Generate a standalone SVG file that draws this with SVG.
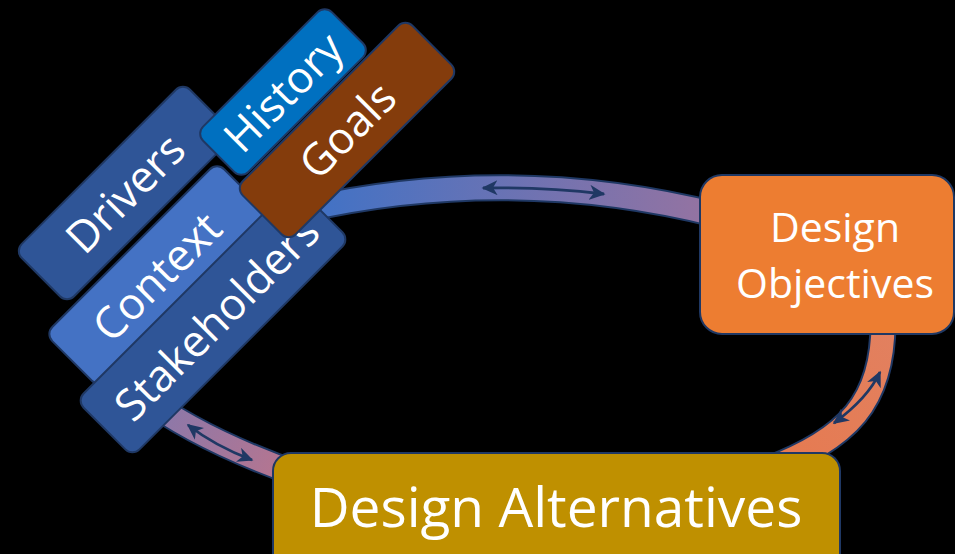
<svg xmlns="http://www.w3.org/2000/svg" width="955" height="554" viewBox="0 0 955 554">
  <style>
    .box { stroke: #1F3864; stroke-width: 2; }
    .lbl { font-family: "Open Sans", "Noto Sans", sans-serif; fill: #FFFFFF; text-anchor: middle; }
    .tag { font-size: 44px; }
    .rim { fill: none; stroke: #1F3864; stroke-width: 27; }
    .band { fill: none; stroke-width: 23; }
    .dbl { fill: none; stroke: #1F3864; stroke-width: 2.8; marker-start: url(#tip); marker-end: url(#tip); }
  </style>
  <defs>
    <marker id="tip" markerUnits="userSpaceOnUse" markerWidth="17" markerHeight="16" refX="14.5" refY="7.5" orient="auto-start-reverse">
      <path d="M0,0 L16,7.5 L0,15 L4.5,7.5 z" fill="#1F3864"/>
    </marker>
    <linearGradient id="gTop" gradientUnits="userSpaceOnUse" x1="330" y1="0" x2="700" y2="0">
      <stop offset="0" stop-color="#4472C4"/>
      <stop offset="1" stop-color="#9373A2"/>
    </linearGradient>
    <linearGradient id="gLeft" gradientUnits="userSpaceOnUse" x1="160" y1="410" x2="290" y2="475">
      <stop offset="0" stop-color="#8B78AA"/>
      <stop offset="1" stop-color="#B8758E"/>
    </linearGradient>
    <linearGradient id="gRight" gradientUnits="userSpaceOnUse" x1="885" y1="330" x2="770" y2="465">
      <stop offset="0" stop-color="#E2805F"/>
      <stop offset="1" stop-color="#E67A50"/>
    </linearGradient>
  </defs>

  <rect width="955" height="554" fill="#000000"/>

  <!-- cycle bands and their two-way arrows -->
  <g id="connectors">
    <path class="rim" d="M300,210.7 Q510,162.6 720,215.5"/>
    <path class="band" stroke="url(#gTop)" d="M300,210.7 Q510,162.6 720,215.5"/>
    <path class="rim" d="M883,320 C884,400 850,440 760,472"/>
    <path class="band" stroke="url(#gRight)" d="M883,320 C884,400 850,440 760,472"/>
    <path class="rim" d="M140,395 Q200,440 300,475"/>
    <path class="band" stroke="url(#gLeft)" d="M140,395 Q200,440 300,475"/>
    <path class="dbl" d="M483,188 Q543.5,186.8 604,194"/>
    <path class="dbl" d="M880,372 Q868,398 834,423"/>
    <path class="dbl" d="M188,425 Q215,446 252,460"/>
  </g>

  <!-- tilted factor cards -->
  <g id="drivers" transform="translate(125,193) rotate(-45)">
    <rect class="box" x="-119" y="-37" width="238" height="74" rx="10" fill="#2F5597"/>
    <text class="lbl tag" x="0" y="16">Drivers</text>
  </g>
  <g id="history" transform="translate(283,92) rotate(-45)">
    <rect class="box" x="-91" y="-32" width="182" height="64" rx="10" fill="#0070C0"/>
    <text class="lbl tag" x="0" y="16">History</text>
  </g>
  <g id="context" transform="translate(158,275) rotate(-45)">
    <rect class="box" x="-121.5" y="-38" width="243" height="76" rx="10" fill="#4472C4"/>
    <text class="lbl tag" x="-2" y="16">Context</text>
  </g>
  <g id="stakeholders" transform="translate(213,320) rotate(-45)">
    <rect class="box" x="-153.5" y="-39.5" width="307" height="79" rx="10" fill="#2F5597"/>
    <text class="lbl tag" x="4" y="17">Stakeholders</text>
  </g>
  <g id="goals" transform="translate(347,130) rotate(-45)">
    <rect class="box" x="-120" y="-37.5" width="240" height="75" rx="10" fill="#843C0C"/>
    <text class="lbl tag" x="0" y="16">Goals</text>
  </g>

  <g id="design-objectives">
    <rect class="box" x="700" y="175" width="254" height="159" rx="22" fill="#ED7D31"/>
    <text class="lbl" x="835" y="242" font-size="41">Design</text>
    <text class="lbl" x="835" y="298" font-size="41">Objectives</text>
  </g>

  <g id="design-alternatives">
    <rect class="box" x="273" y="453" width="567" height="130" rx="18" fill="#BF9000"/>
    <text class="lbl" x="556" y="527" font-size="55">Design Alternatives</text>
  </g>
</svg>
